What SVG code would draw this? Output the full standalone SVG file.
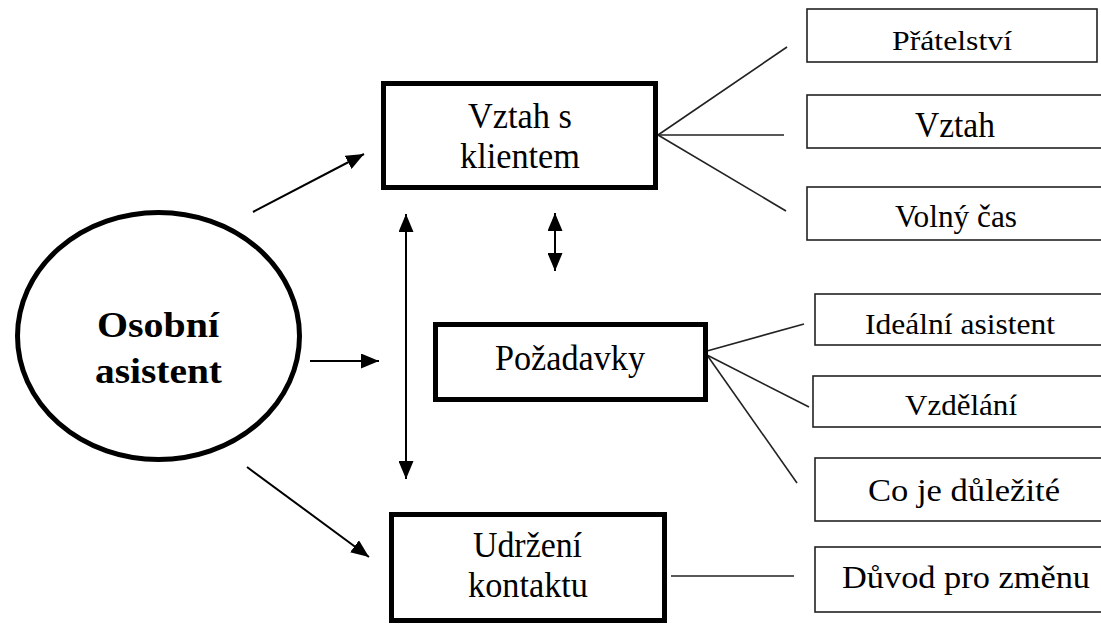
<svg xmlns="http://www.w3.org/2000/svg" width="1101" height="625" viewBox="0 0 1101 625">
<defs>
<marker id="ah" viewBox="0 0 18 15" refX="18" refY="7.5" markerWidth="18" markerHeight="15" markerUnits="userSpaceOnUse" orient="auto-start-reverse">
<path d="M0,0 L18,7.5 L0,15 Z" fill="#000"/>
</marker>
</defs>
<style>
.thick{fill:#fff;stroke:#000;stroke-width:5}
.thin{fill:#fff;stroke:#222;stroke-width:1.6}
text{font-family:'Liberation Serif','Times New Roman',Tinos,'DejaVu Serif',serif;fill:#000}
.c{stroke:#000;stroke-width:2;fill:none}
.f{stroke:#222;stroke-width:1.6;fill:none}
</style>
<rect width="1101" height="625" fill="#fff"/>
<g id="connectors">
<line class="c" x1="253" y1="212" x2="364" y2="154" marker-end="url(#ah)"/>
<line class="c" x1="310" y1="361" x2="379" y2="361" marker-end="url(#ah)"/>
<line class="c" x1="247" y1="467" x2="369" y2="557" marker-end="url(#ah)"/>
<line class="c" x1="406" y1="214" x2="406" y2="479" marker-start="url(#ah)" marker-end="url(#ah)"/>
<line class="c" x1="555" y1="213" x2="555" y2="271" marker-start="url(#ah)" marker-end="url(#ah)"/>
<line class="f" x1="658" y1="135" x2="787" y2="47"/>
<line class="f" x1="658" y1="135" x2="784" y2="135"/>
<line class="f" x1="658" y1="135" x2="786" y2="211"/>
<line class="f" x1="707" y1="351" x2="804" y2="324"/>
<line class="f" x1="707" y1="355" x2="809" y2="407"/>
<line class="f" x1="707" y1="355" x2="797" y2="483"/>
<line class="f" x1="671" y1="576" x2="794" y2="576"/>
</g>
<g id="osobni-asistent">
<ellipse cx="158.5" cy="336" rx="141" ry="123.5" fill="#fff" stroke="#000" stroke-width="5"/>
<text x="97" y="337" font-size="36" font-weight="bold" textLength="122" lengthAdjust="spacingAndGlyphs">Osobní</text>
<text x="95" y="383" font-size="36" font-weight="bold" textLength="127" lengthAdjust="spacingAndGlyphs">asistent</text>
</g>
<g id="vztah-s-klientem">
<rect class="thick" x="383.5" y="83.5" width="272" height="104"/>
<text x="468" y="128" font-size="35" textLength="104" lengthAdjust="spacingAndGlyphs">Vztah s</text>
<text x="460" y="168" font-size="35" textLength="120" lengthAdjust="spacingAndGlyphs">klientem</text>
</g>
<g id="pozadavky">
<rect class="thick" x="435.5" y="324.5" width="270" height="75"/>
<text x="495" y="370" font-size="35" textLength="150" lengthAdjust="spacingAndGlyphs">Požadavky</text>
</g>
<g id="udrzeni-kontaktu">
<rect class="thick" x="391.5" y="514.5" width="273" height="106"/>
<text x="473" y="557" font-size="35" textLength="109" lengthAdjust="spacingAndGlyphs">Udržení</text>
<text x="468" y="597" font-size="35" textLength="120" lengthAdjust="spacingAndGlyphs">kontaktu</text>
</g>
<g id="pratelstvi">
<rect class="thin" x="807" y="9" width="290" height="53"/>
<text x="892" y="50" font-size="28" textLength="120" lengthAdjust="spacingAndGlyphs">Přátelství</text>
</g>
<g id="vztah">
<rect class="thin" x="807" y="95" width="310" height="53"/>
<text x="915" y="137" font-size="35" textLength="80" lengthAdjust="spacingAndGlyphs">Vztah</text>
</g>
<g id="volny-cas">
<rect class="thin" x="807" y="187" width="310" height="53"/>
<text x="895" y="227" font-size="31" textLength="122" lengthAdjust="spacingAndGlyphs">Volný čas</text>
</g>
<g id="idealni-asistent">
<rect class="thin" x="815" y="294" width="300" height="51"/>
<text x="865" y="334" font-size="30" textLength="190" lengthAdjust="spacingAndGlyphs">Ideální asistent</text>
</g>
<g id="vzdelani">
<rect class="thin" x="813" y="376" width="300" height="51"/>
<text x="905" y="415" font-size="30" textLength="112" lengthAdjust="spacingAndGlyphs">Vzdělání</text>
</g>
<g id="co-je-dulezite">
<rect class="thin" x="815" y="458" width="300" height="63"/>
<text x="868" y="501" font-size="32" textLength="192" lengthAdjust="spacingAndGlyphs">Co je důležité</text>
</g>
<g id="duvod-pro-zmenu">
<rect class="thin" x="815" y="547" width="300" height="65"/>
<text x="842" y="588" font-size="31" textLength="248" lengthAdjust="spacingAndGlyphs">Důvod pro změnu</text>
</g>
</svg>
